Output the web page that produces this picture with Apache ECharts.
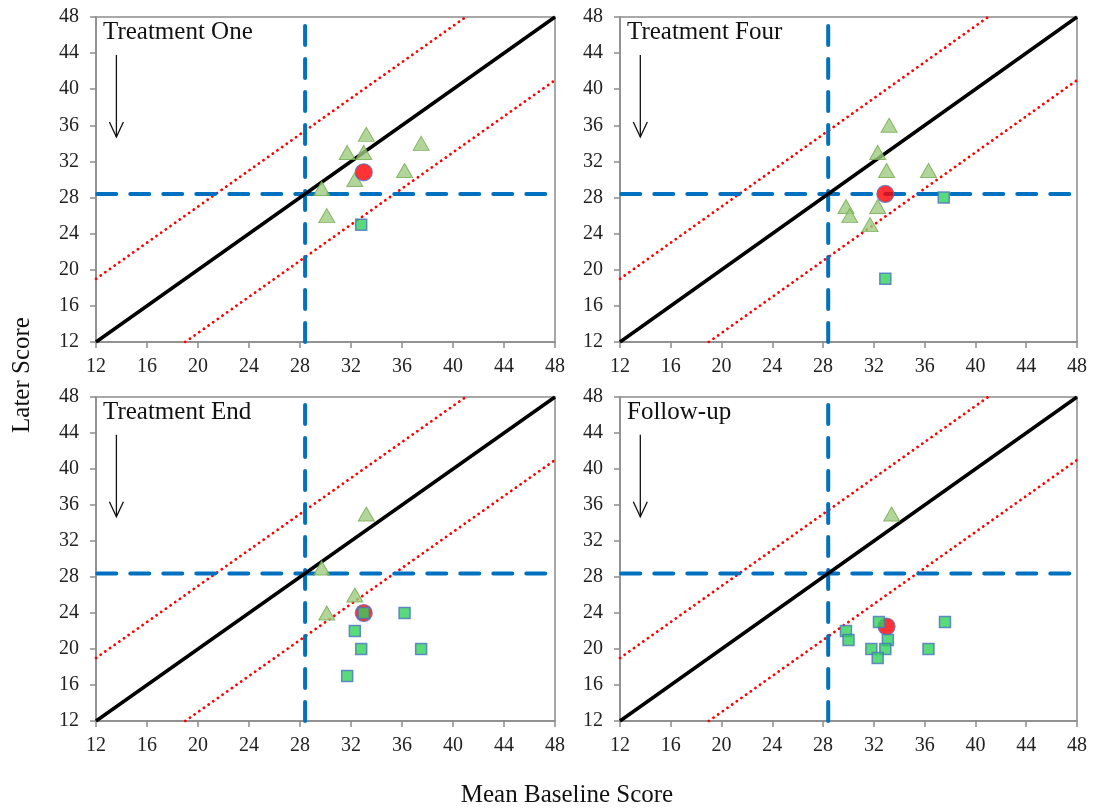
<!DOCTYPE html>
<html>
<head>
<meta charset="utf-8">
<script src="https://cdn.jsdelivr.net/npm/echarts@6/dist/echarts.min.js"></script>
<style>
  html, body {margin: 0; padding: 0; background: #fff;}
  #chart {width: 1095px; height: 810px;}
</style>
</head>
<body>
<div id="chart"></div>
<script>
// panel names, in reading order
const panelTitles = ['Treatment One', 'Treatment Four', 'Treatment End', 'Follow-up'];

// individual points above the cut-off (triangles), [baseline, later]
const trianglePoints = [
  [[33.2, 35], [31.7, 33], [33.0, 33], [37.5, 34], [36.2, 31], [32.3, 30], [29.7, 29], [30.1, 26]],
  [[33.2, 36], [32.3, 33], [33.0, 31], [36.3, 31], [29.8, 27], [30.1, 26], [32.3, 27], [31.7, 25]],
  [[33.2, 35], [29.7, 29], [32.3, 26], [30.1, 24]],
  [[33.4, 35]]
];

// group means (red circles)
const meanPoints = [
  [[33.0, 30.8]],
  [[32.9, 28.4]],
  [[33.0, 24.0]],
  [[33.0, 22.5]]
];

// individual points below the cut-off (squares)
const squarePoints = [
  [[32.8, 25]],
  [[37.5, 28], [32.9, 19]],
  [[33.0, 24], [36.2, 24], [32.3, 22], [32.8, 20], [37.5, 20], [31.7, 17]],
  [[32.4, 23], [37.6, 23], [29.8, 22], [30.0, 21], [33.1, 21], [31.8, 20], [32.9, 20], [32.3, 19], [36.3, 20]]
];

const axisMin = 12;
const axisMax = 48;
const tickStep = 4;
const cutoff = 28.4;     // clinical cut-off (blue dashed)
const changeBand = 7;    // reliable change band (red dotted)

const grids = [
  {left: 96, top: 17, width: 459, height: 325},
  {left: 620, top: 17, width: 457, height: 325},
  {left: 96, top: 397, width: 459, height: 324},
  {left: 620, top: 397, width: 457, height: 324}
];

const serif = 'Liberation Serif';
const axisColor = '#8c8c8c';

const xAxes = [], yAxes = [], series = [];
grids.forEach((g, i) => {
  g.show = true;
  g.borderColor = axisColor;
  g.borderWidth = 1.5;
  const common = {
    gridIndex: i, type: 'value', min: axisMin, max: axisMax, interval: tickStep,
    splitLine: {show: false},
    axisLine: {show: true, lineStyle: {color: axisColor, width: 1.5}},
    axisTick: {show: true, inside: false, length: 6, lineStyle: {color: axisColor, width: 1.5}},
    axisLabel: {fontFamily: serif, fontSize: 20, color: '#222'}
  };
  xAxes.push({...common, axisLabel: {...common.axisLabel, margin: 15}});
  yAxes.push({...common, axisLabel: {...common.axisLabel, margin: 17}});

  const line = (data, style, z) => ({
    type: 'line', xAxisIndex: i, yAxisIndex: i, data, showSymbol: false, symbol: 'none',
    silent: true, lineStyle: style, z
  });
  const dotted = {color: '#ff0000', width: 2.8, type: [0.1, 5.6], cap: 'round'};
  const dashed = {color: '#0070c0', width: 4, type: [19, 14], cap: 'round'};
  series.push(line([[axisMin, axisMin + changeBand], [axisMax - changeBand, axisMax]], dotted, 2));
  series.push(line([[axisMin + changeBand, axisMin], [axisMax, axisMax - changeBand]], dotted, 2));
  series.push(line([[axisMin + 0.1, cutoff], [axisMax, cutoff]], dashed, 3));
  series.push(line([[cutoff, axisMin], [cutoff, axisMax]], dashed, 3));
  series.push(line([[axisMin, axisMin], [axisMax, axisMax]], {color: '#000', width: 3.5}, 4));

  series.push({
    type: 'scatter', xAxisIndex: i, yAxisIndex: i, data: trianglePoints[i],
    symbol: 'triangle', symbolSize: [16, 14], z: 5,
    itemStyle: {color: '#9fcc80', borderColor: '#72aa4f', borderWidth: 1}
  });
  series.push({
    type: 'scatter', xAxisIndex: i, yAxisIndex: i, data: meanPoints[i],
    symbol: 'circle', symbolSize: 17, z: 6,
    itemStyle: {color: '#ff0000', borderColor: '#5b6fc0', borderWidth: 1.2}
  });
  series.push({
    type: 'scatter', xAxisIndex: i, yAxisIndex: i, data: squarePoints[i],
    symbol: 'rect', symbolSize: 11, z: 7,
    itemStyle: {color: '#2fd15a', borderColor: '#4a73c0', borderWidth: 1.5}
  });
});

const chart = echarts.init(document.getElementById('chart'));
chart.setOption({
  animation: false,
  grid: grids,
  xAxis: xAxes,
  yAxis: yAxes,
  series
});

// panel titles, arrows and shared axis names
const graphics = [];
panelTitles.forEach((t, i) => {
  const g = grids[i];
  graphics.push({
    type: 'text', left: g.left + 7, top: g.top + 3, z: 10,
    style: {text: t, font: '25px ' + serif, fill: '#111'}
  });
  const top = chart.convertToPixel({gridIndex: i}, [13.6, 43.8]);
  const bot = chart.convertToPixel({gridIndex: i}, [13.6, 34.7]);
  graphics.push({
    type: 'polyline', z: 10, silent: true,
    shape: {points: [top, bot]},
    style: {stroke: '#111', lineWidth: 1.3}
  });
  graphics.push({
    type: 'polyline', z: 10, silent: true,
    shape: {points: [[bot[0] - 7, bot[1] - 15], bot, [bot[0] + 7, bot[1] - 15]]},
    style: {stroke: '#111', lineWidth: 1.3, fill: null}
  });
});
graphics.push({
  type: 'text', x: 22, y: 375, rotation: Math.PI / 2, z: 10,
  style: {text: 'Later Score', font: '25px ' + serif, fill: '#111', align: 'center', verticalAlign: 'middle'}
});
graphics.push({
  type: 'text', x: 567, y: 795, z: 10,
  style: {text: 'Mean Baseline Score', font: '25px ' + serif, fill: '#111', align: 'center', verticalAlign: 'middle'}
});
chart.setOption({graphic: graphics});
</script>
</body>
</html>
